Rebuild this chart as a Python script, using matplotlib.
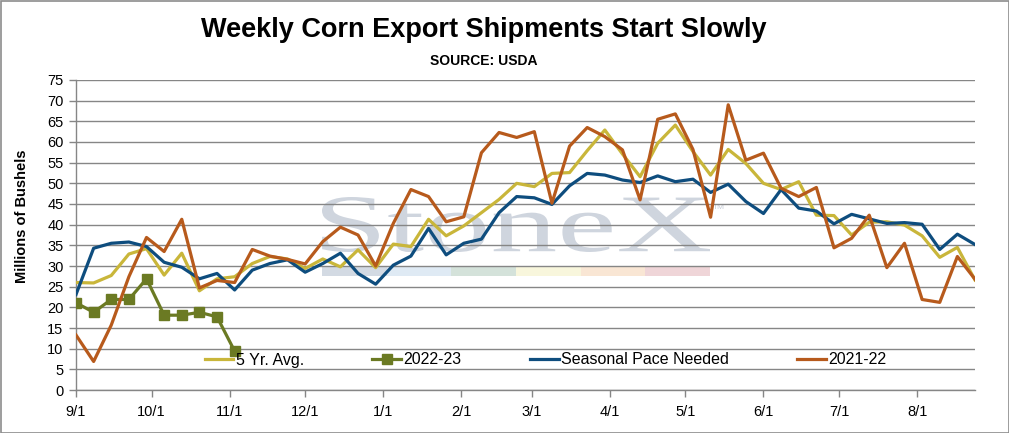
import numpy as np
import pandas as pd
import matplotlib
matplotlib.use("Agg")
import matplotlib.pyplot as plt
import matplotlib.dates as mdates
from matplotlib.ticker import FuncFormatter, MultipleLocator
from matplotlib.textpath import TextPath
from matplotlib.patches import PathPatch, Rectangle
from matplotlib.font_manager import FontProperties
from matplotlib.transforms import Affine2D

# ---------------- data ----------------
weeks = pd.date_range("2022-09-01", periods=52, freq="7D")

five_yr_avg = [26.0, 25.9, 27.7, 32.9, 34.2, 27.8, 33.1, 24.0, 26.9, 27.4,
               30.6, 32.3, 31.7, 29.4, 31.7, 29.8, 33.9, 29.6, 35.3, 34.7,
               41.3, 37.3, 39.7, 42.9, 46.1, 50.0, 49.2, 52.4, 52.6, 57.9,
               62.9, 57.1, 51.6, 59.7, 64.1, 57.7, 52.0, 58.2, 54.8, 50.0,
               48.5, 50.4, 42.3, 42.2, 37.5, 40.6, 40.7, 39.9, 37.3, 32.1,
               34.5, 26.6]

season_2022_23 = [21.1, 18.8, 21.9, 21.9, 26.9, 18.1, 18.1, 18.8, 17.7, 9.4]

seasonal_pace = [23.1, 34.3, 35.5, 35.8, 34.7, 30.9, 29.7, 26.9, 28.2, 24.2,
                 29.0, 30.6, 31.5, 28.5, 30.6, 33.1, 28.2, 25.6, 30.2, 32.4,
                 39.1, 32.7, 35.5, 36.5, 42.9, 46.8, 46.5, 44.9, 49.4, 52.4,
                 52.0, 50.8, 50.2, 51.8, 50.4, 51.0, 47.8, 49.8, 45.6, 42.7,
                 48.5, 44.0, 43.3, 40.2, 42.5, 41.4, 40.3, 40.5, 40.1, 34.0,
                 37.7, 35.2]

season_2021_22 = [13.3, 6.9, 15.7, 27.4, 36.9, 33.5, 41.3, 24.7, 26.5, 26.0,
                  34.0, 32.4, 31.6, 30.5, 35.9, 39.4, 37.5, 30.0, 40.3, 48.5,
                  46.8, 40.7, 41.9, 57.4, 62.3, 61.1, 62.5, 45.2, 59.0, 63.5,
                  61.3, 58.1, 46.0, 65.5, 66.8, 58.2, 41.8, 69.0, 55.6, 57.3,
                  48.8, 46.8, 49.0, 34.4, 36.7, 42.3, 29.6, 35.5, 21.9, 21.2,
                  32.3, 26.8]

series_labels = ["5 Yr. Avg.", "2022-23", "Seasonal Pace Needed", "2021-22"]
title_text = "Weekly Corn Export Shipments Start Slowly"
subtitle_text = "SOURCE: USDA"
ylabel_text = "Millions of Bushels"

# ---------------- style ----------------
plt.rcParams["font.family"] = ["Liberation Sans", "DejaVu Sans"]
W, H = 1009, 433
fig = plt.figure(figsize=(W / 100, H / 100), dpi=100)
fig.patch.set_facecolor("white")

def px(x, y):
    return x / W, 1 - y / H

ax_l, ax_r, ax_t, ax_b = 76, 975, 80, 390
ax = fig.add_axes([ax_l / W, 1 - ax_b / H, (ax_r - ax_l) / W, (ax_b - ax_t) / H])
ax.set_facecolor("none")

grid_c = "#868686"

# watermark (behind the axes)
tp = TextPath((0, 0), "StoneX", size=1, prop=FontProperties(family="Liberation Serif"))
bb = tp.get_extents()
x0, y0 = px(322, 252)
x1, y1 = px(710, 197)
trf = (Affine2D().translate(-bb.x0, -bb.y0)
       .scale((x1 - x0) / bb.width, (y1 - y0) / bb.height)
       .translate(x0, y0) + fig.transFigure)
wm = PathPatch(tp, transform=trf, facecolor="#cfd5de", edgecolor="none", zorder=-1)
fig.add_artist(wm)
fig.text(*px(713, 209), "TM", fontsize=6, color="#c8ced8", zorder=-1)
stripe_colors = ["#d3dae3", "#dfeaf4", "#d4e2da", "#f8f6dc", "#f9e6d4", "#efd5d8"]
sw = (710 - 322) / len(stripe_colors)
for k, c in enumerate(stripe_colors):
    sx, sy = px(322 + k * sw, 276)
    fig.add_artist(Rectangle((sx, sy), sw / W, 9 / H, transform=fig.transFigure,
                             facecolor=c, edgecolor="none", zorder=-1))

# lines
lw = 2.3
ax.plot(weeks, five_yr_avg, color="#c9b63a", lw=lw, label=series_labels[0], zorder=3)
ax.plot(weeks[:len(season_2022_23)], season_2022_23, color="#6b7a23", lw=lw,
        marker="s", markersize=7, label=series_labels[1], zorder=4)
ax.plot(weeks, seasonal_pace, color="#0e4d7e", lw=lw, label=series_labels[2], zorder=5)
ax.plot(weeks, season_2021_22, color="#b75a1c", lw=lw, label=series_labels[3], zorder=6)

ax.set_ylim(0, 75)
ax.set_xlim(weeks[0], weeks[-1])
ax.yaxis.set_major_locator(MultipleLocator(5))
ax.xaxis.set_major_locator(mdates.MonthLocator())
ax.xaxis.set_major_formatter(FuncFormatter(
    lambda v, p: "%d/%d" % (mdates.num2date(v).month, mdates.num2date(v).day)))

ax.grid(axis="y", color=grid_c, lw=1.0)
ax.set_axisbelow(True)
for s in ["top", "right"]:
    ax.spines[s].set_visible(False)
for s in ["left", "bottom"]:
    ax.spines[s].set_color(grid_c)
    ax.spines[s].set_linewidth(1.0)
ax.tick_params(axis="both", direction="out", length=5, width=1.0, color=grid_c,
               labelsize=10.5, labelcolor="black")
ax.tick_params(axis="y", pad=4)
ax.tick_params(axis="x", pad=6)

leg = ax.legend(loc="center", bbox_to_anchor=((545.5 - ax_l) / (ax_r - ax_l), (ax_b - 360) / (ax_b - ax_t)),
                ncol=4, frameon=False, fontsize=11.5, handlelength=1.8,
                handletextpad=0.15, columnspacing=4.27, borderaxespad=0)

fig.text(*px(484, 30), title_text, ha="center", va="center", fontsize=19.5, fontweight="bold")
fig.text(*px(484, 61), subtitle_text, ha="center", va="center", fontsize=10, fontweight="bold")
fig.text(*px(22, 216), ylabel_text, ha="center", va="center", rotation=90,
         fontsize=10.5, fontweight="bold")

fig.add_artist(Rectangle(px(0.5, H - 0.5), (W - 1) / W, (H - 1) / H, transform=fig.transFigure,
                         fill=False, edgecolor="#8c8c8c", lw=1.2, zorder=10))

fig.savefig("out.png", dpi=100)
